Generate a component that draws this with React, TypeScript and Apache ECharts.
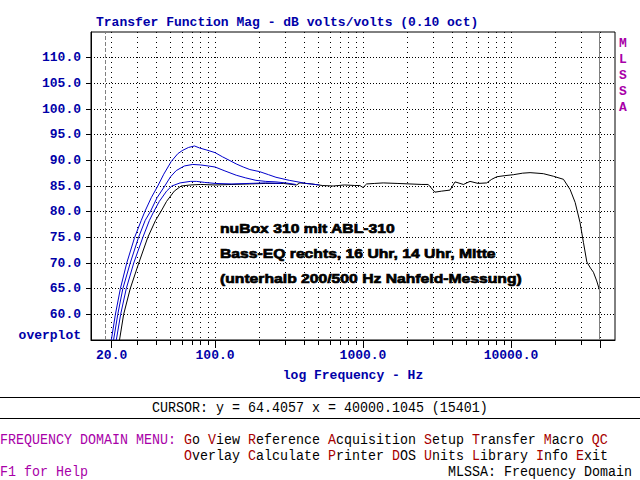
import React, { useEffect, useRef } from 'react';
import * as echarts from 'echarts';

// ---- axes ----
const xMinHz = 14.5;
const xMaxHz = 50500;
const yMin = 55;
const yMax = 115;
const gridTicksHz = [20, 30, 40, 50, 60, 70, 80, 90, 100, 200, 300, 400, 500, 600, 700, 800, 900,
  1000, 2000, 3000, 4000, 5000, 6000, 7000, 8000, 9000, 10000, 20000, 30000, 40000];
const majorTicksHz = [20, 100, 1000, 10000, 40000];
const labelTicksHz = [20, 100, 1000, 10000];
const dbTicks = [60, 65, 70, 75, 80, 85, 90, 95, 100, 105, 110];
const markerHz = 18.2;
const cursorHz = 40000;

// ---- curves ----
const blackHz = [22.6, 24.1, 26.7, 30.5, 35.1, 39.6, 43, 47, 53, 59, 68, 80, 100, 130, 170, 220, 290, 355, 374, 450, 530, 628, 750, 880, 952, 1000, 1058, 1200, 1370, 1700, 2076, 2500, 2760, 3060, 3400, 3870, 4190, 4770, 5290, 6000, 6855, 7410, 8020, 9000, 10380, 12000, 13460, 15000, 16560, 19360, 22640, 25120, 27160, 29300, 30900, 32580, 34500, 36100, 38000, 40000];
const blackDb = [55, 60, 65, 70, 75, 78.3, 80, 82, 84, 85, 85.2, 85.3, 85.2, 85.3, 85.4, 85.5, 85.5, 85.2, 85.6, 85.4, 85.1, 85.0, 85.2, 85.1, 85.1, 84.7, 85.4, 85.5, 85.6, 85.5, 85.4, 85.3, 85.3, 83.8, 84.0, 84.2, 85.8, 85.3, 85.9, 85.5, 85.6, 86.3, 86.8, 87.0, 87.2, 87.5, 87.6, 87.5, 87.4, 86.9, 86.3, 84.3, 81.8, 77.9, 74.0, 70.2, 69.0, 68.2, 66.5, 64.4];

const blue1Hz = [19.9, 21.2, 22.9, 25.3, 28.6, 31.7, 33.5, 37, 41, 45, 50.6, 56, 60, 66, 72.6, 78.6, 88, 100, 112, 125, 139, 155, 172, 200, 230, 258, 318, 413, 506];
const blue1Db = [55, 60, 65, 70, 75, 78.3, 80, 82.7, 85, 87.3, 89.8, 91.3, 91.9, 92.5, 92.8, 92.4, 92.0, 91.5, 90.7, 90.0, 89.3, 88.7, 88.2, 87.8, 87.2, 86.7, 86.1, 85.5, 85.2];

const blue2Hz = [20.6, 22.0, 23.8, 26.7, 30.4, 33.7, 36.5, 40.5, 45.7, 50, 54.6, 62, 70.6, 80, 90, 100, 115, 139, 160, 189, 220, 258, 300, 352];
const blue2Db = [55, 60, 65, 70, 75, 78.3, 80, 82.7, 85, 86.8, 88.0, 88.9, 89.2, 89.1, 88.9, 88.7, 88.0, 87.1, 86.6, 86.1, 85.9, 85.8, 85.6, 85.3];

const blue3Hz = [21.5, 23.0, 25.1, 28.2, 32.5, 36.0, 38.5, 42, 47, 51, 58, 68, 75, 85, 100, 130, 170, 220, 280];
const blue3Db = [55, 60, 65, 70, 75, 78.3, 80, 82, 84, 85, 85.6, 85.9, 85.9, 85.7, 85.5, 85.4, 85.5, 85.6, 85.5];

// ---- texts ----
const titleText = 'Transfer Function Mag - dB volts/volts (0.10 oct)';
const xName = 'log Frequency - Hz';
const noteLines = ['nuBox 310 mit ABL-310', 'Bass-EQ rechts, 16 Uhr, 14 Uhr, Mitte', '(unterhalb 200/500 Hz Nahfeld-Messung)'];
const cursorText = 'CURSOR: y = 64.4057 x = 40000.1045 (15401)';

const BLUE = '#0000a8';
const CURVE_BLUE = '#0000cc';
const MAG = '#a800a8';
const RED = '#a80000';
const MONO = "'Liberation Mono', 'DejaVu Sans Mono', monospace";
const SANS = "'Liberation Sans', Arial, sans-serif";

const lg = (f: number) => Math.log10(f);
const toSeries = (hz: number[], db: number[]) => hz.map((f, i) => [lg(f), db[i]]);

const monoLabel = { fontFamily: MONO, fontSize: 13, fontWeight: 'bold', color: BLUE };
const menuFont = { fontFamily: MONO, fontSize: 13.33 };

export default function App() {
  const ref = useRef<HTMLDivElement>(null);
  useEffect(() => {
    if (!ref.current) return;
    const chart = echarts.init(ref.current, null, { renderer: 'svg' });
    const lineSeries = (name: string, hz: number[], db: number[], color: string, z: number, extra: any = {}) => ({
      name, type: 'line', xAxisIndex: 0, yAxisIndex: 0, data: toSeries(hz, db),
      showSymbol: false, symbol: 'none', silent: true, z,
      lineStyle: { color, width: 1 }, ...extra,
    });
    const option: any = {
      animation: false,
      backgroundColor: '#ffffff',
      title: {
        text: titleText, left: 96, top: 16, padding: 0,
        textStyle: { fontFamily: MONO, fontSize: 13, fontWeight: 'bold', color: BLUE },
      },
      grid: {
        left: 91, top: 32, width: 524, height: 308, show: true,
        borderColor: '#000', borderWidth: 1, backgroundColor: 'transparent',
        containLabel: false, outerBoundsMode: 'none',
      },
      xAxis: [
        {
          type: 'value', min: lg(xMinHz), max: lg(xMaxHz), position: 'bottom',
          name: xName, nameLocation: 'middle', nameGap: 29,
          nameTextStyle: { fontFamily: MONO, fontSize: 13, fontWeight: 'bold', color: BLUE },
          axisLine: { show: true, lineStyle: { color: '#000', width: 1 } },
          axisTick: { show: true, inside: false, length: 5, customValues: gridTicksHz.map(lg), lineStyle: { color: '#000', width: 1 } },
          axisLabel: {
            show: true, customValues: labelTicksHz.map(lg), margin: 9,
            formatter: (v: number) => Math.pow(10, v).toFixed(1), ...monoLabel,
          },
          splitLine: { show: true, lineStyle: { color: '#000', width: 1, type: [1, 4] } },
        },
        {
          type: 'value', min: lg(xMinHz), max: lg(xMaxHz), position: 'bottom',
          axisLine: { show: false },
          axisTick: { show: true, inside: false, length: 8, customValues: majorTicksHz.map(lg), lineStyle: { color: '#000', width: 1 } },
          axisLabel: { show: false },
          splitLine: { show: false },
        },
      ],
      yAxis: {
        type: 'value', min: yMin, max: yMax, interval: 5,
        axisLine: { show: true, lineStyle: { color: '#000', width: 1 } },
        axisTick: { show: true, inside: false, length: 5, customValues: dbTicks, lineStyle: { color: '#000', width: 1 } },
        axisLabel: { show: true, customValues: dbTicks, margin: 10, formatter: (v: number) => v.toFixed(1), ...monoLabel },
        splitLine: { show: true, lineStyle: { color: '#000', width: 1, type: [1, 2] } },
      },
      series: [
        lineSeries('black', blackHz, blackDb, '#000', 2, {
          markLine: {
            silent: true, symbol: ['none', 'none'], label: { show: false },
            data: [
              { xAxis: lg(markerHz), lineStyle: { color: '#808080', width: 1, type: [4, 2] } },
              { xAxis: lg(cursorHz), lineStyle: { color: '#808080', width: 1, type: 'solid' } },
            ],
          },
        }),
        lineSeries('blue3', blue3Hz, blue3Db, CURVE_BLUE, 3),
        lineSeries('blue2', blue2Hz, blue2Db, CURVE_BLUE, 3),
        lineSeries('blue1', blue1Hz, blue1Db, CURVE_BLUE, 3),
      ],
      graphic: [
        {
          type: 'text', x: 81, y: 335.5, silent: true,
          style: { text: 'overplot', fontFamily: MONO, fontSize: 13, fontWeight: 'bold', fill: BLUE, align: 'right', verticalAlign: 'middle' },
        },
        {
          type: 'text', x: 623, y: 35, silent: true,
          style: { text: 'M\nL\nS\nS\nA', fontFamily: MONO, fontSize: 13, fontWeight: 'bold', fill: MAG, align: 'center', verticalAlign: 'top', lineHeight: 16 },
        },
        ...noteLines.map((t, i) => ({
          type: 'text', x: 220, y: 228.5 + i * 25, scaleY: 0.85, silent: true, z: 10,
          style: { text: t, fontFamily: SANS, fontSize: 15.7, fontWeight: 'bold', fill: '#000', stroke: '#000', lineWidth: 0.8, align: 'left', verticalAlign: 'middle' },
        })),
        { type: 'line', silent: true, shape: { x1: 0, y1: 397.5, x2: 640, y2: 397.5 }, style: { stroke: '#000', lineWidth: 1 } },
        { type: 'line', silent: true, shape: { x1: 0, y1: 418.5, x2: 640, y2: 418.5 }, style: { stroke: '#000', lineWidth: 1 } },
        {
          type: 'text', x: 152, y: 407.5, scaleY: 1.15, silent: true,
          style: { text: cursorText, ...menuFont, fill: '#000', align: 'left', verticalAlign: 'middle' },
        },
        {
          type: 'text', x: 0, y: 439.5, scaleY: 1.15, silent: true,
          style: {
            text: '{m|FREQUENCY DOMAIN MENU:} {r|G}o {r|V}iew {r|R}eference {r|A}cquisition {r|S}etup {r|T}ransfer {r|M}acro {r|QC}',
            ...menuFont, fill: '#000', align: 'left', verticalAlign: 'middle',
            rich: { m: { ...menuFont, fill: MAG }, r: { ...menuFont, fill: RED } },
          },
        },
        {
          type: 'text', x: 184, y: 455.5, scaleY: 1.15, silent: true,
          style: {
            text: '{r|O}verlay {r|C}alculate {r|P}rinter {r|D}OS {r|U}nits {r|L}ibrary {r|I}nfo {r|E}xit',
            ...menuFont, fill: '#000', align: 'left', verticalAlign: 'middle',
            rich: { r: { ...menuFont, fill: RED } },
          },
        },
        {
          type: 'text', x: 0, y: 471.5, scaleY: 1.15, silent: true,
          style: { text: 'F1 for Help', ...menuFont, fill: MAG, align: 'left', verticalAlign: 'middle' },
        },
        {
          type: 'text', x: 448, y: 471.5, scaleY: 1.15, silent: true,
          style: { text: 'MLSSA: Frequency Domain', ...menuFont, fill: '#000', align: 'left', verticalAlign: 'middle' },
        },
      ],
    };
    chart.setOption(option);
    return () => chart.dispose();
  }, []);
  return <div ref={ref} style={{ position: 'fixed', left: 0, top: 0, width: 640, height: 480, background: '#fff' }} />;
}
